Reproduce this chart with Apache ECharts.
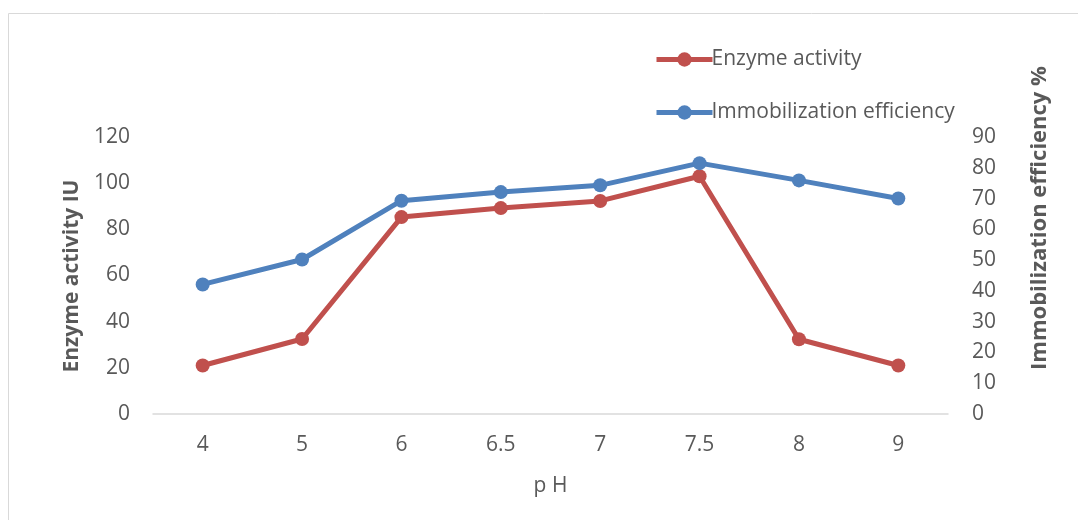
<!DOCTYPE html>
<html><head><meta charset="utf-8">
<script src="https://cdn.jsdelivr.net/npm/echarts@6/dist/echarts.min.js"></script>
<style>html,body{margin:0;padding:0;background:#fff}#c{width:1078px;height:520px}</style>
</head><body><div id="c"></div>
<script>
var categories = ['4','5','6','6.5','7','7.5','8','9'];
var enzymeActivity = [21, 32.5, 85.3, 89.2, 92.3, 103, 32.4, 21];
var immobilizationEfficiency = [42.1, 50.2, 69.3, 72.1, 74.3, 81.5, 75.9, 70.0];
var leftTicks = [0, 120, 20];
var rightTicks = [0, 90, 10];

var FONT = 'Open Sans';
var TXT = '#595959';
var chart = echarts.init(document.getElementById('c'), null, {renderer: 'canvas'});
chart.setOption({
  animation: false,
  textStyle: {fontFamily: FONT},
  graphic: [
    {type: 'rect', shape: {x: 8.5, y: 13.5, width: 1200, height: 700}, style: {fill: 'none', stroke: '#d9d9d9', lineWidth: 1}, z: -1},
    {type: 'text', x: 72, y: 276, rotation: Math.PI / 2, style: {text: 'Enzyme activity IU', font: 'bold 21px "Open Sans"', fill: TXT, align: 'center', verticalAlign: 'middle'}},
    {type: 'text', x: 1040, y: 218, rotation: Math.PI / 2, style: {text: 'Immobilization efficiency %', font: 'bold 22px "Open Sans"', fill: TXT, align: 'center', verticalAlign: 'middle'}}
  ],
  legend: {
    orient: 'vertical', left: 649, top: 44,
    itemWidth: 56, itemHeight: 18, itemGap: 32,
    lineStyle: {width: 5},
    textStyle: {fontFamily: FONT, fontSize: 21, color: TXT, padding: [0,0,0,-6]},
    data: ['Enzyme activity', 'Immobilization efficiency']
  },
  grid: {left: 153, right: 130, top: 137, bottom: 106},
  xAxis: {
    type: 'category', data: categories, boundaryGap: true,
    axisLine: {lineStyle: {color: '#d9d9d9', width: 1.5}},
    axisTick: {show: false},
    axisLabel: {fontFamily: FONT, fontSize: 21, color: TXT, margin: 21},
    name: 'p H', nameLocation: 'middle', nameGap: 62,
    nameTextStyle: {fontFamily: FONT, fontSize: 21, color: TXT}
  },
  yAxis: [
    {type: 'value', min: leftTicks[0], max: leftTicks[1], interval: leftTicks[2],
     axisLine: {show: false}, axisTick: {show: false}, splitLine: {show: false},
     axisLabel: {fontFamily: FONT, fontSize: 21, color: TXT, margin: 23}},
    {type: 'value', min: rightTicks[0], max: rightTicks[1], interval: rightTicks[2], position: 'right',
     axisLine: {show: false}, axisTick: {show: false}, splitLine: {show: false},
     axisLabel: {fontFamily: FONT, fontSize: 21, color: TXT, margin: 24}}
  ],
  series: [
    {name: 'Enzyme activity', type: 'line', yAxisIndex: 0, data: enzymeActivity,
     color: '#C0504D', symbol: 'circle', symbolSize: 14,
     lineStyle: {width: 5, color: '#C0504D'}, itemStyle: {color: '#C0504D'}},
    {name: 'Immobilization efficiency', type: 'line', yAxisIndex: 1, data: immobilizationEfficiency,
     color: '#4F81BD', symbol: 'circle', symbolSize: 14,
     lineStyle: {width: 5, color: '#4F81BD'}, itemStyle: {color: '#4F81BD'}}
  ]
});
</script></body></html>
